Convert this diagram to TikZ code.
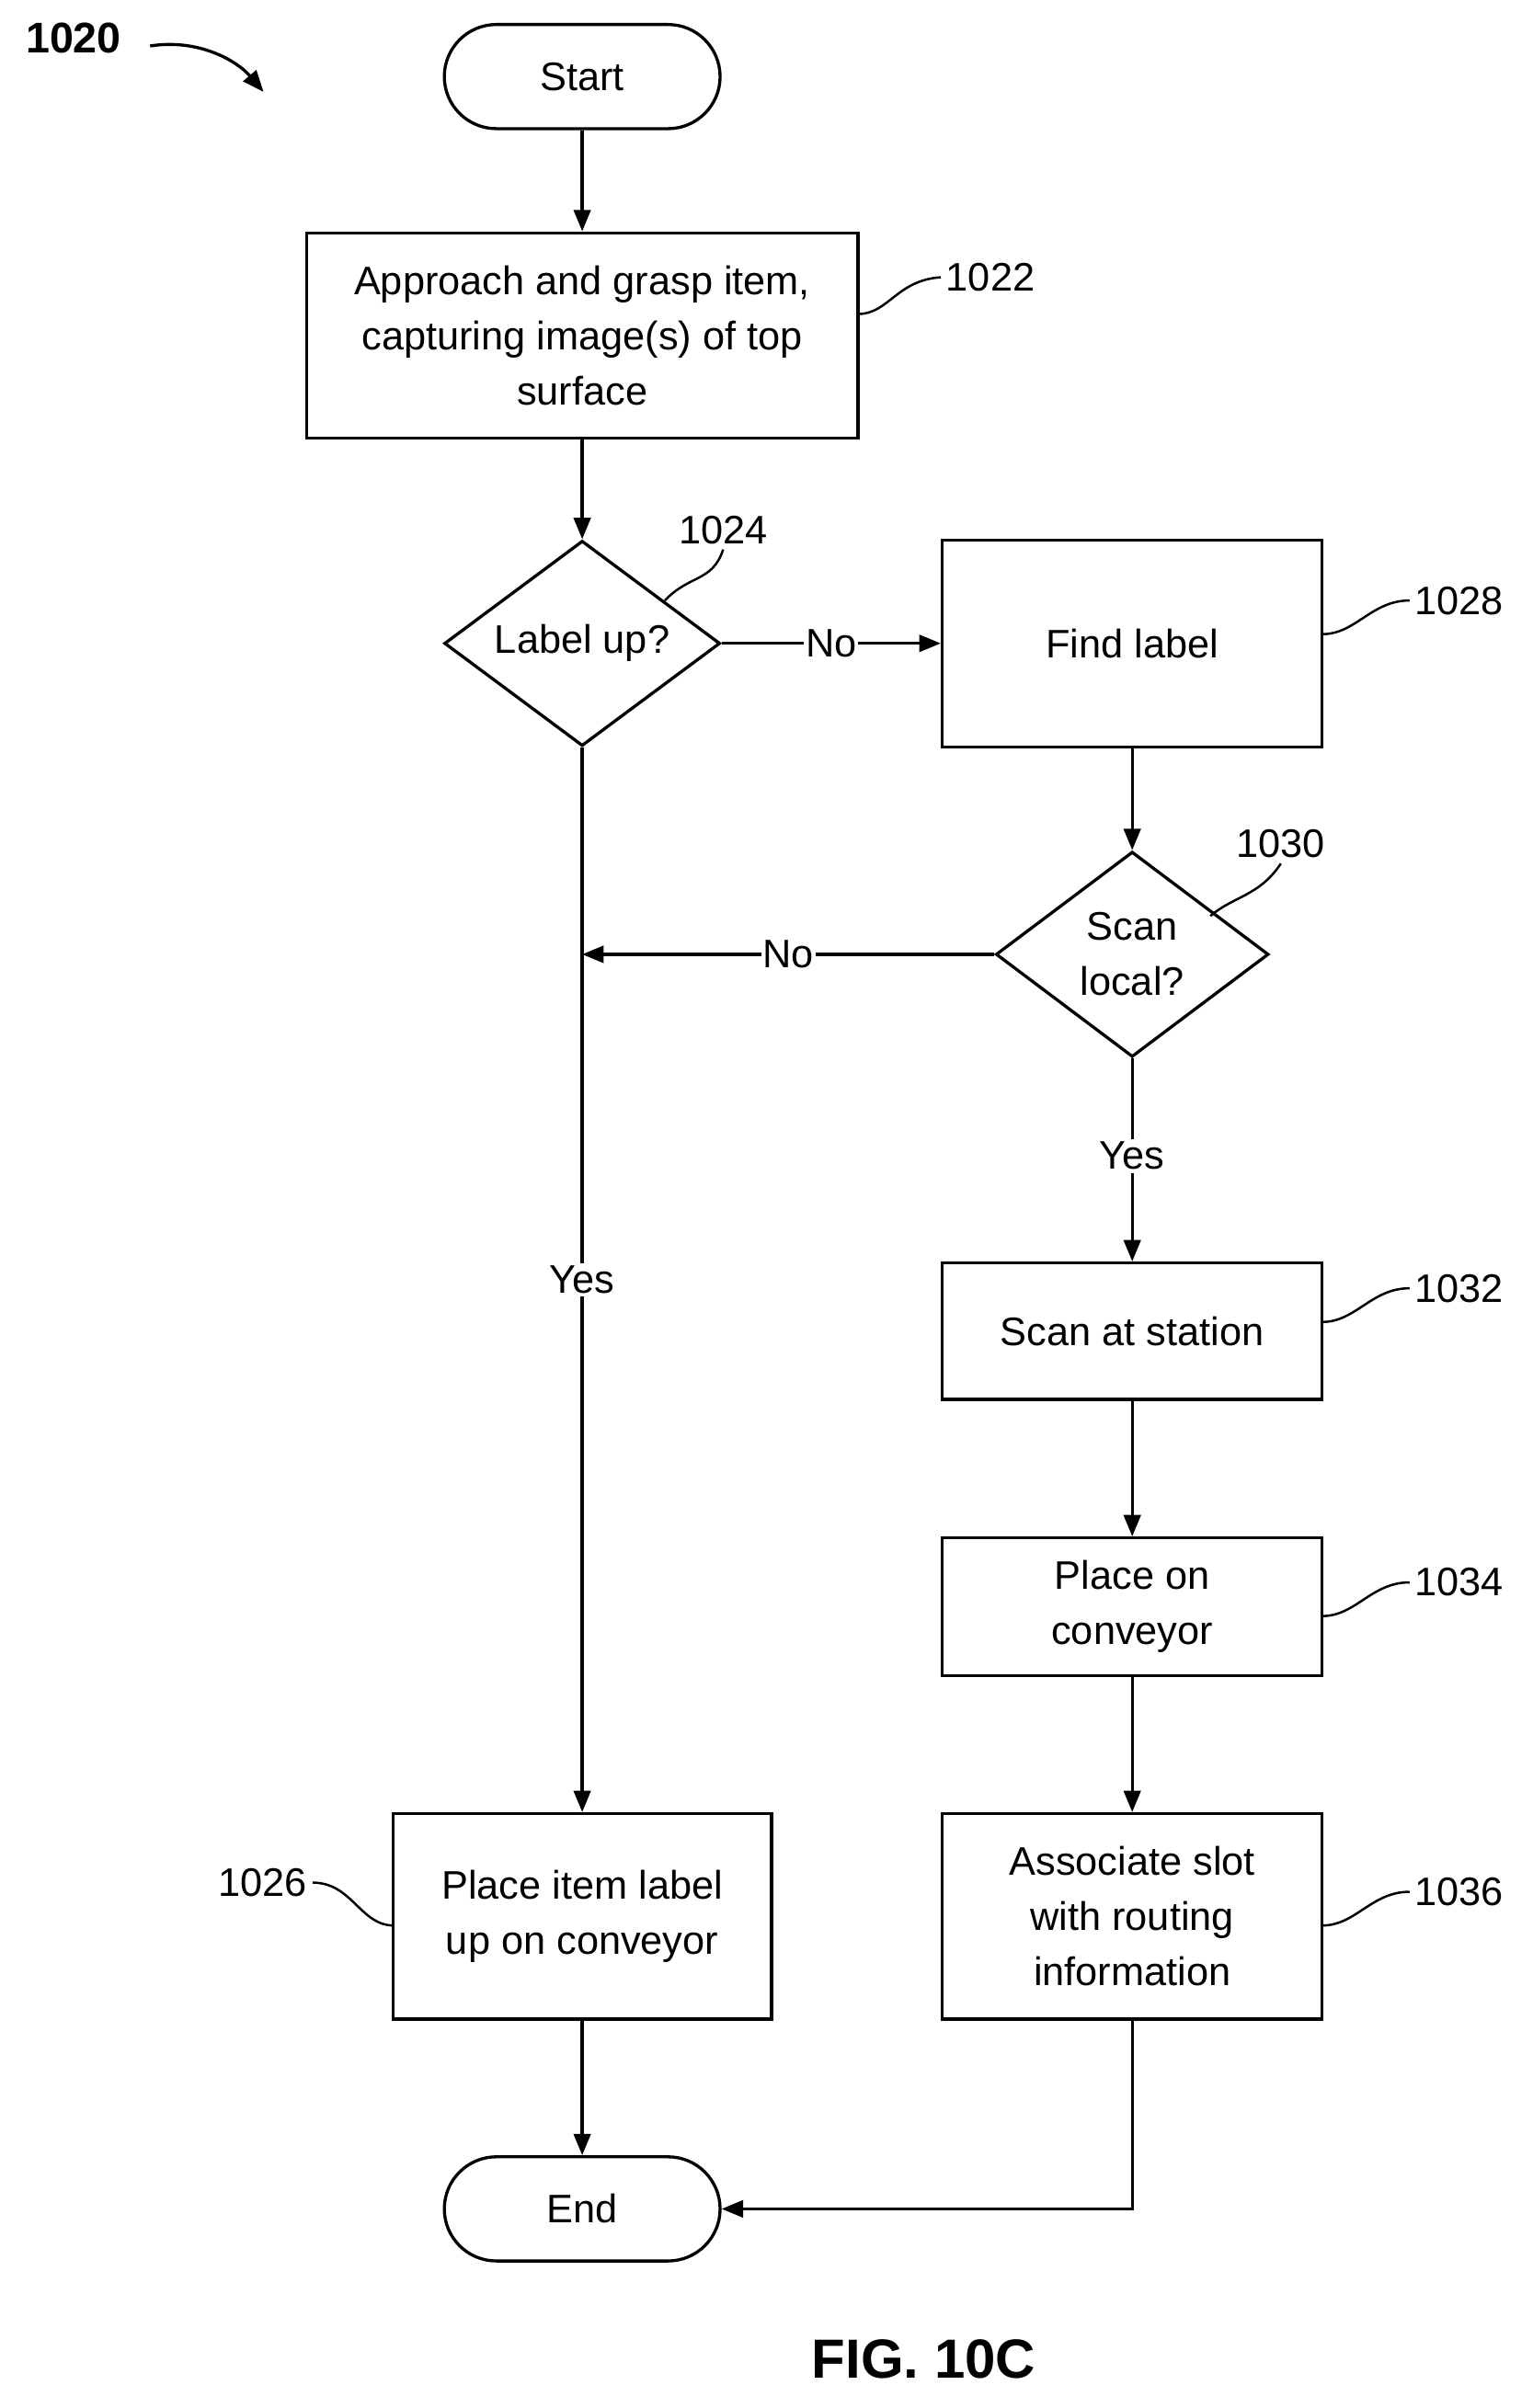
\documentclass[tikz,border=0pt]{standalone}
\usepackage{fontspec}
\setmainfont{Liberation Sans}
\usetikzlibrary{shapes.geometric,arrows.meta}
\begin{document}
\begin{tikzpicture}[x=1pt,y=-1pt,
  every node/.style={font=\fontsize{26}{36}\selectfont},
  box/.style={draw,line width=2pt,align=center,inner sep=0pt},
  term/.style={draw,line width=2pt,rounded corners=34pt,minimum width=180pt,minimum height=68pt},
  dia/.style={draw,line width=2pt,diamond,aspect=1.33,minimum width=180pt,minimum height=134pt,inner sep=0pt,align=center},
  arr/.style={line width=2pt,-{Triangle[length=14pt,width=11pt]}},
  ln/.style={line width=2pt},
  lead/.style={line width=1.5pt},
  ref/.style={font=\fontsize{26}{30}\selectfont}]
\useasboundingbox (0,0) rectangle (1000,1572);
\node[term] (start) at (380,50) {Start};
\node[box,minimum width=360pt,minimum height=134pt] (b22) at (380,219) {Approach and grasp item,\\capturing image(s) of top\\surface};
\node[dia] (d24) at (380,420) {Label up?};
\node[box,minimum width=248pt,minimum height=135pt] (b28) at (739,420) {Find label};
\node[dia,minimum width=178pt] (d30) at (739,623) {Scan\\local?};
\node[box,minimum width=248pt,minimum height=89pt] (b32) at (739,869) {Scan at station};
\node[box,minimum width=248pt,minimum height=90pt] (b34) at (739,1049) {Place on\\conveyor};
\node[box,minimum width=248pt,minimum height=134pt] (b36) at (739,1251) {Associate slot\\with routing\\information};
\node[box,minimum width=247pt,minimum height=134pt] (b26) at (380,1251) {Place item label\\up on conveyor};
\node[term] (end) at (380,1442) {End};
\coordinate (m) at (380,623);
\draw[arr] (start) -- (b22);
\draw[arr] (b22) -- (d24);
\draw[arr] (d24) -- node[fill=white,inner sep=1pt]{No} (b28);
\draw[arr] (b28) -- (d30);
\draw[arr] (d30) -- node[fill=white,inner sep=1pt]{No} (m);
\draw[arr] (d30) -- node[fill=white,inner sep=2pt,pos=0.48]{Yes} (b32);
\draw[arr] (d24) -- node[fill=white,inner sep=2pt,pos=0.5]{Yes} (b26);
\draw[arr] (b32) -- (b34);
\draw[arr] (b34) -- (b36);
\draw[arr] (b26) -- (end);
\draw[arr] (b36.south) |- (end.east);
% reference numbers
\node[ref,anchor=west] (r22) at (614,181) {1022};
\draw[lead] (560,205) .. controls (580,205) and (585,183) .. (r22.west);
\node[ref] (r24) at (472,346) {1024};
\draw[lead] (434,392) .. controls (450,375) and (465,380) .. (r24.south);
\node[ref,anchor=west] (r28) at (920,392) {1028};
\draw[lead] (863,414) .. controls (885,414) and (895,392) .. (r28.west);
\node[ref] (r30) at (836,551) {1030};
\draw[lead] (790,598) .. controls (805,585) and (822,585) .. (r30.south);
\node[ref,anchor=west] (r32) at (920,841) {1032};
\draw[lead] (863,863) .. controls (885,863) and (895,841) .. (r32.west);
\node[ref,anchor=west] (r34) at (920,1033) {1034};
\draw[lead] (863,1055) .. controls (885,1055) and (895,1033) .. (r34.west);
\node[ref,anchor=west] (r36) at (920,1235) {1036};
\draw[lead] (863,1257) .. controls (885,1257) and (895,1235) .. (r36.west);
\node[ref,anchor=east] (r26) at (204,1229) {1026};
\draw[lead] (r26.east) .. controls (230,1229) and (235,1257) .. (257,1257);
\node[font=\bfseries\fontsize{28}{30}\selectfont] (r20) at (48,25) {1020};
\draw[line width=2pt,-{Triangle[length=14pt,width=11pt]}] (98,30) .. controls (130,25) and (155,40) .. (172,60);
\node[font=\bfseries\fontsize{36}{40}\selectfont] (fig) at (603,1540) {FIG. 10C};
\end{tikzpicture}
\end{document}
